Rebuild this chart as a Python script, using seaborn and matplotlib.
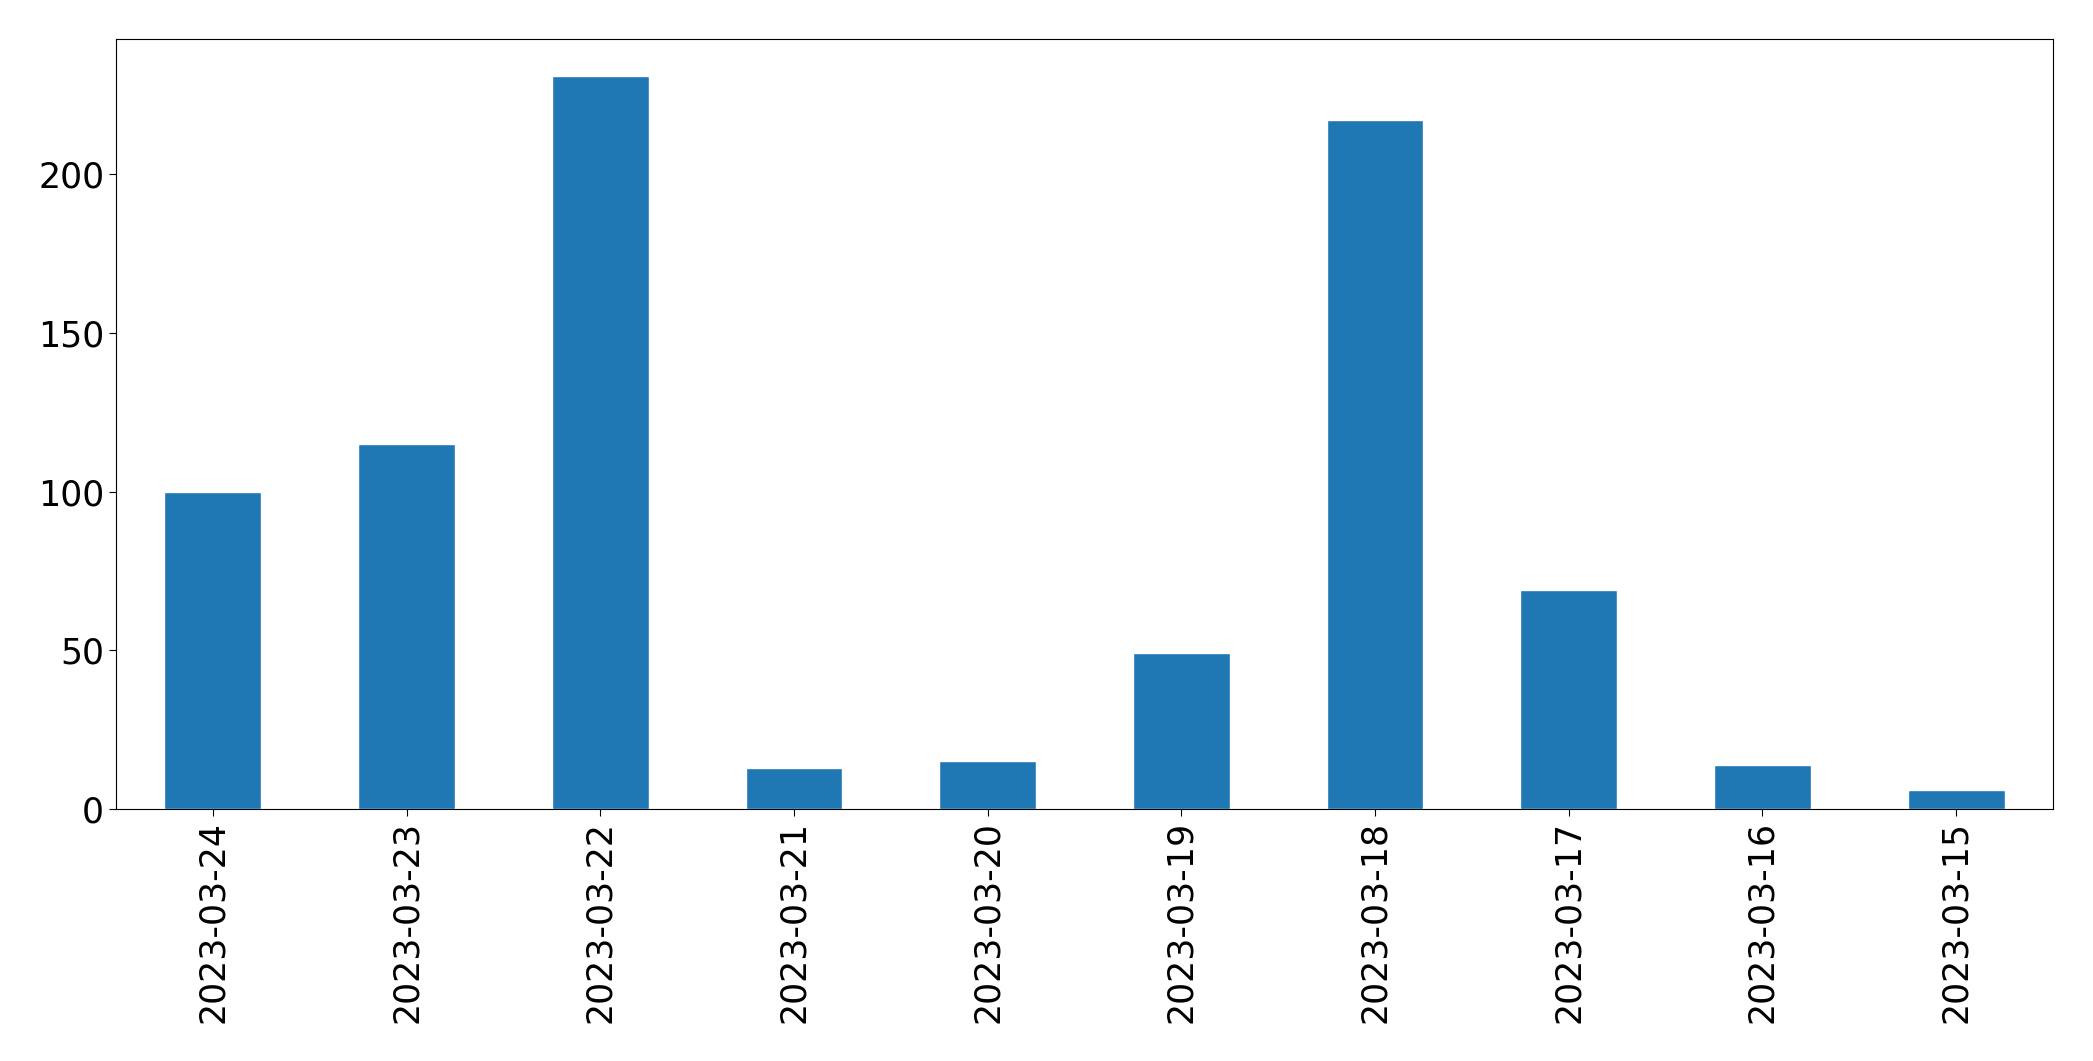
import matplotlib
matplotlib.use("Agg")
import matplotlib.pyplot as plt
import seaborn as sns
import pandas as pd

dates = ["2023-03-24", "2023-03-23", "2023-03-22", "2023-03-21", "2023-03-20",
         "2023-03-19", "2023-03-18", "2023-03-17", "2023-03-16", "2023-03-15"]
counts = [100, 115, 231, 13, 15, 49, 217, 69, 14, 6]

sns.set_style("ticks")
plt.rcParams["font.family"] = ["DejaVu Sans"]

df = pd.DataFrame({"date": dates, "count": counts})

fig = plt.figure(figsize=(20.93, 10.61), dpi=100)
ax = fig.add_axes([116 / 2093, 1 - 809 / 1061, (2053 - 116) / 2093, (809 - 39) / 1061])
sns.barplot(data=df, x="date", y="count", color="#1f77b4", saturation=1,
            width=0.5, ax=ax, order=dates)
ax.set_xlim(-0.5, len(dates) - 0.5)
ax.set_ylim(0, max(counts) * 1.05)
ax.set_yticks([0, 50, 100, 150, 200])
ax.set_xlabel("")
ax.set_ylabel("")
for s in ax.spines.values():
    s.set_visible(True)
    s.set_color("black")
    s.set_linewidth(0.8)
ax.tick_params(axis="both", labelsize=25, length=5, width=0.8,
               color="black", labelcolor="black")
plt.setp(ax.get_xticklabels(), rotation=90)
fig.savefig("out.png", dpi=100)
